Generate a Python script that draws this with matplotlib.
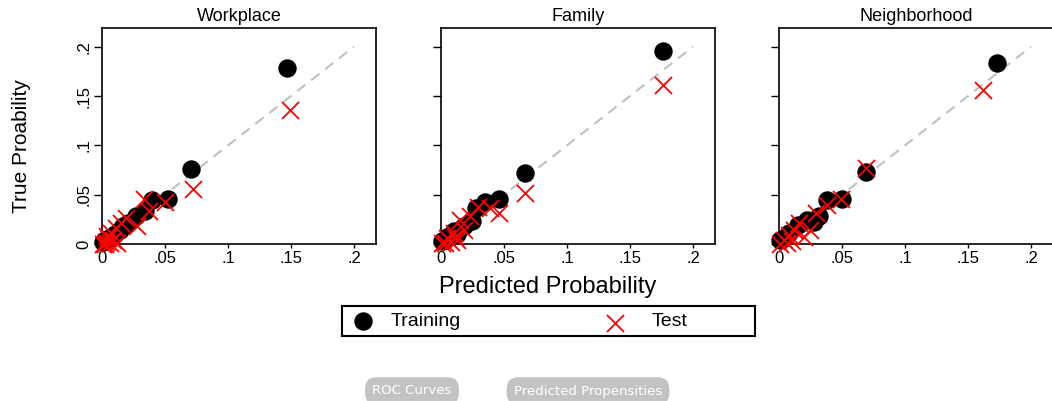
import numpy as np
import matplotlib
matplotlib.use("Agg")
import matplotlib.pyplot as plt

plt.rcParams['font.family'] = ['Liberation Sans', 'DejaVu Sans']

# Datos
titles = ["Workplace", "Family", "Neighborhood"]

work_train_x = [0.147, 0.071, 0.052, 0.040, 0.034, 0.027, 0.021, 0.017, 0.014, 0.010, 0.007, 0.004, 0.002, 0.001]
work_train_y = [0.178, 0.076, 0.046, 0.045, 0.033, 0.028, 0.021, 0.018, 0.014, 0.010, 0.007, 0.005, 0.004, 0.002]
work_test_x = [0.149, 0.072, 0.050, 0.037, 0.033, 0.028, 0.019, 0.015, 0.011, 0.007, 0.005, 0.003, 0.002, 0.009, 0.012, 0.004, 0.006, 0.001]
work_test_y = [0.136, 0.056, 0.043, 0.033, 0.046, 0.018, 0.026, 0.021, 0.016, 0.011, 0.006, 0.002, 0.000, 0.004, 0.001, 0.008, 0.001, 0.000]

fam_train_x = [0.176, 0.067, 0.046, 0.035, 0.028, 0.025, 0.018, 0.010, 0.005, 0.001, 0.013, 0.003]
fam_train_y = [0.196, 0.072, 0.046, 0.043, 0.036, 0.023, 0.018, 0.013, 0.007, 0.003, 0.010, 0.004]
fam_test_x = [0.176, 0.067, 0.046, 0.039, 0.029, 0.023, 0.015, 0.018, 0.010, 0.005, 0.001, 0.013, 0.008, 0.003, 0.011]
fam_test_y = [0.161, 0.052, 0.031, 0.036, 0.038, 0.028, 0.024, 0.014, 0.011, 0.006, 0.001, 0.004, 0.002, 0.001, 0.007]

nb_train_x = [0.173, 0.069, 0.050, 0.038, 0.032, 0.022, 0.015, 0.008, 0.001, 0.028, 0.004]
nb_train_y = [0.184, 0.073, 0.046, 0.045, 0.028, 0.024, 0.019, 0.011, 0.004, 0.022, 0.006]
nb_test_x = [0.162, 0.069, 0.049, 0.038, 0.029, 0.025, 0.016, 0.012, 0.008, 0.004, 0.001, 0.020, 0.006, 0.010]
nb_test_y = [0.156, 0.077, 0.046, 0.040, 0.031, 0.014, 0.021, 0.014, 0.009, 0.004, 0.000, 0.007, 0.001, 0.003]

tick_vals = [0, 0.05, 0.1, 0.15, 0.2]
tick_labels = ["0", ".05", ".1", ".15", ".2"]

paneles = [
    (work_train_x, work_train_y, work_test_x, work_test_y),
    (fam_train_x, fam_train_y, fam_test_x, fam_test_y),
    (nb_train_x, nb_train_y, nb_test_x, nb_test_y),
]

W, H = 1052, 401
fig = plt.figure(figsize=(W / 100, H / 100), dpi=100)

lefts = [102, 441, 779]
ax_w, ax_h = 274, 216
ax_top = 28

def px(x0, y0, w, h):
    return [x0 / W, 1 - (y0 + h) / H, w / W, h / H]

for i, (tx, ty, sx, sy) in enumerate(paneles):
    ax = fig.add_axes(px(lefts[i], ax_top, ax_w, ax_h))
    ax.plot([0, 0.2], [0, 0.2], color="#c0c0c0", lw=1.5, dashes=(5, 3.5), zorder=1)
    ax.scatter(tx, ty, s=150, color="black", zorder=2, clip_on=False)
    ax.scatter(sx, sy, s=150, marker="x", color="red", linewidths=1.3, zorder=3, clip_on=False)
    ax.set_xlim(0, 0.2175)
    ax.set_ylim(0, 0.219)
    ax.set_xticks(tick_vals)
    ax.set_xticklabels(tick_labels, fontsize=12)
    ax.set_yticks(tick_vals)
    if i == 0:
        ax.set_yticklabels(tick_labels, fontsize=12, rotation=90, va="center")
    else:
        ax.set_yticklabels([])
    ax.tick_params(axis="y", length=5.5, width=1, pad=2)
    ax.tick_params(axis="x", length=3, width=1, pad=2)
    for sp in ax.spines.values():
        sp.set_linewidth(1.2)
    ax.set_title(titles[i], fontsize=13, pad=5)

fig.text(548 / W, 1 - 287 / H, "Predicted Probability", fontsize=17, ha="center", va="center")
fig.text(22 / W, 1 - 146 / H, "True Proability", fontsize=15, rotation=90, ha="center", va="center")

# Leyenda dibujada a mano dentro de un recuadro
lax = fig.add_axes(px(342, 306, 413, 30))
lax.set_xlim(0, 413)
lax.set_ylim(0, 30)
lax.set_xticks([])
lax.set_yticks([])
for sp in lax.spines.values():
    sp.set_linewidth(1.5)
lax.scatter([21], [15], s=150, color="black", clip_on=False)
lax.text(49, 15, "Training", fontsize=14, va="center", ha="left")
lax.scatter([273], [13], s=150, marker="x", color="red", linewidths=1.3, clip_on=False)
lax.text(310, 15, "Test", fontsize=14, va="center", ha="left")

# Botones grises de la página
for label, cx in [("ROC Curves", 412), ("Predicted Propensities", 588)]:
    fig.text(cx / W, 1 - 391 / H, label, fontsize=9.5, color="white", ha="center", va="center",
             family="DejaVu Sans",
             bbox=dict(boxstyle="round,pad=0.55,rounding_size=0.9", fc="#c3c3c3", ec="none"))

fig.savefig("out.png", dpi=100)
